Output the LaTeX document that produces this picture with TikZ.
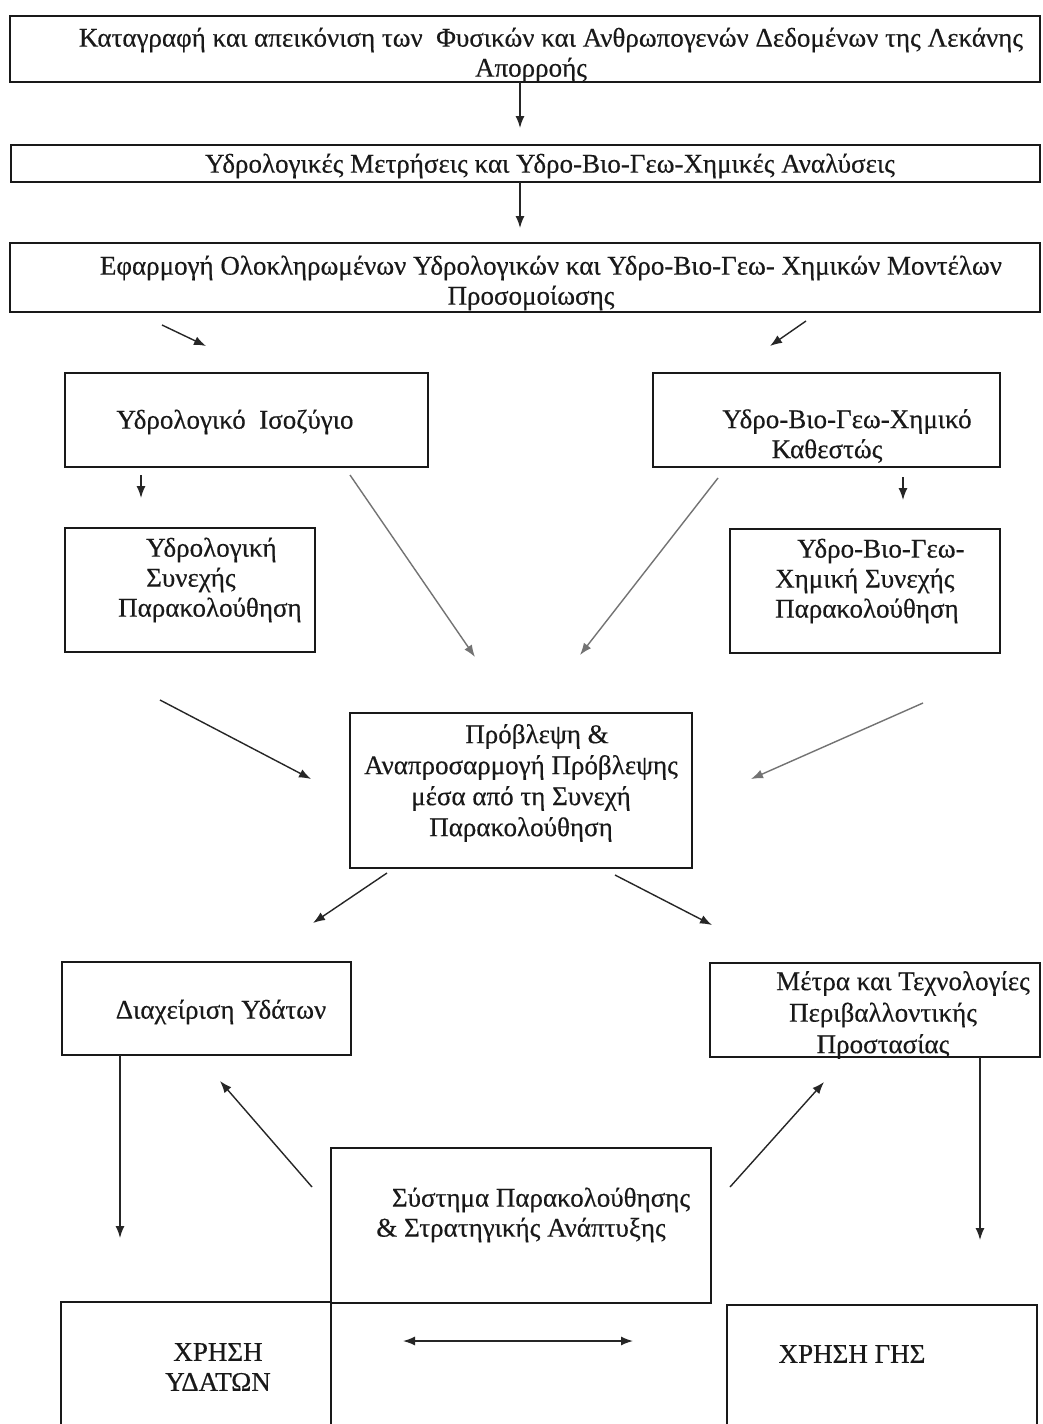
\documentclass[tikz,border=0pt]{standalone}
\usepackage{fontspec}
\setmainfont[FakeBold=0.4]{Liberation Serif}
\usetikzlibrary{arrows.meta}
\tikzset{
  box/.style={draw=black!90, line width=1.5pt, rectangle, inner sep=0pt},
  lbl/.style={font=\fontsize{27}{30}\selectfont, align=center, inner sep=0pt, text=black!90},
  tip/.tip={Latex[length=12pt,width=9pt]},
  arr/.style={draw=black!85, line width=1.4pt, -tip},
  garr/.style={draw=black!55, line width=1.4pt, -tip},
  darr/.style={draw=black!85, line width=1.4pt, tip-tip},
}
\newcommand{\bx}[5]{\node[box, minimum width=#4-#2, minimum height=#5-#3] (#1) at ({(#2+#4)/2},{(#3+#5)/2}) {};}
\begin{document}
\begin{tikzpicture}[x=1pt,y=-1pt]
\clip (0,0) rectangle (1042,1424);
\fill[white] (0,0) rectangle (1042,1424);
% boxes
\bx{b1}{10}{16}{1040}{82}
\bx{b2}{11}{145}{1040}{182}
\bx{b3}{10}{243}{1040}{312}
\bx{b4}{65}{373}{428}{467}
\bx{b5}{653}{373}{1000}{467}
\bx{b6}{65}{528}{315}{652}
\bx{b7}{730}{529}{1000}{653}
\bx{b8}{350}{713}{692}{868}
\bx{b9}{62}{962}{351}{1055}
\bx{b10}{710}{963}{1040}{1057}
\bx{b11}{331}{1148}{711}{1303}
\bx{b12}{61}{1302}{331}{1460}
\bx{b13}{727}{1305}{1037}{1460}
% texts
\node[lbl] (t1) at (551,55) {Καταγραφή και απεικόνιση των \ Φυσικών και Ανθρωπογενών Δεδομένων της Λεκάνης\\\hspace*{-40pt}Απορροής};
\node[lbl] (t2) at (550,166) {Υδρολογικές Μετρήσεις και Υδρο-Βιο-Γεω-Χημικές Αναλύσεις};
\node[lbl] (t3) at (551,283) {Εφαρμογή Ολοκληρωμένων Υδρολογικών και Υδρο-Βιο-Γεω- Χημικών Μοντέλων\\\hspace*{-40pt}Προσομοίωσης};
\node[lbl] (t4) at (235,422) {Υδρολογικό \ Ισοζύγιο};
\node[lbl] (t5) at (847,436) {Υδρο-Βιο-Γεω-Χημικό\\\hspace*{-40pt}Καθεστώς};
\node[lbl, align=left, anchor=west] (t6) at (118,580) {\hspace*{28pt}Υδρολογική\\\hspace*{28pt}Συνεχής\\Παρακολούθηση};
\node[lbl, align=left, anchor=west] (t7) at (775,581) {\hspace*{22pt}Υδρο-Βιο-Γεω-\\Χημική Συνεχής\\Παρακολούθηση};
\node[lbl, font=\fontsize{27}{31}\selectfont] (t8) at (521,783) {\hspace*{32pt}Πρόβλεψη \&\\Αναπροσαρμογή Πρόβλεψης\\μέσα από τη Συνεχή\\Παρακολούθηση};
\node[lbl] (t9) at (221,1012) {Διαχείριση Υδάτων};
\node[lbl, font=\fontsize{27}{31.5}\selectfont] (t10) at (883,1015) {\hspace*{40pt}Μέτρα και Τεχνολογίες\\Περιβαλλοντικής\\Προστασίας};
\node[lbl] (t11) at (521,1215) {\hspace*{40pt}Σύστημα Παρακολούθησης\\\& Στρατηγικής Ανάπτυξης};
\node[lbl] (t12) at (218,1367) {ΧΡΗΣΗ\\ΥΔΑΤΩΝ};
\node[lbl] (t13) at (852,1354) {ΧΡΗΣΗ ΓΗΣ};
% arrow end points
\coordinate (a1s) at (520,82);  \coordinate (a1e) at (520,128);
\coordinate (a2s) at (520,182); \coordinate (a2e) at (520,228);
\coordinate (a3s) at (162,325); \coordinate (a3e) at (206,346);
\coordinate (a4s) at (806,321); \coordinate (a4e) at (770,346);
\coordinate (a5s) at (141,475); \coordinate (a5e) at (141,498);
\coordinate (a6s) at (903,477); \coordinate (a6e) at (903,500);
\coordinate (a7s) at (350,475); \coordinate (a7e) at (475,657);
\coordinate (a8s) at (718,478); \coordinate (a8e) at (580,655);
\coordinate (a9s) at (160,700); \coordinate (a9e) at (311,779);
\coordinate (a10s) at (923,703); \coordinate (a10e) at (751,779);
\coordinate (a11s) at (387,873); \coordinate (a11e) at (313,923);
\coordinate (a12s) at (615,875); \coordinate (a12e) at (712,925);
\coordinate (a13s) at (120,1055); \coordinate (a13e) at (120,1238);
\coordinate (a14s) at (980,1057); \coordinate (a14e) at (980,1240);
\coordinate (a15s) at (312,1187); \coordinate (a15e) at (220,1081);
\coordinate (a16s) at (730,1187); \coordinate (a16e) at (824,1082);
\coordinate (a17s) at (403,1341); \coordinate (a17e) at (633,1341);
\draw[arr] (a1s) -- (a1e);
\draw[arr] (a2s) -- (a2e);
\draw[arr] (a3s) -- (a3e);
\draw[arr] (a4s) -- (a4e);
\draw[arr] (a5s) -- (a5e);
\draw[arr] (a6s) -- (a6e);
\draw[garr] (a7s) -- (a7e);
\draw[garr] (a8s) -- (a8e);
\draw[arr] (a9s) -- (a9e);
\draw[garr] (a10s) -- (a10e);
\draw[arr] (a11s) -- (a11e);
\draw[arr] (a12s) -- (a12e);
\draw[arr] (a13s) -- (a13e);
\draw[arr] (a14s) -- (a14e);
\draw[arr] (a15s) -- (a15e);
\draw[arr] (a16s) -- (a16e);
\draw[darr] (a17s) -- (a17e);
\end{tikzpicture}
\end{document}
